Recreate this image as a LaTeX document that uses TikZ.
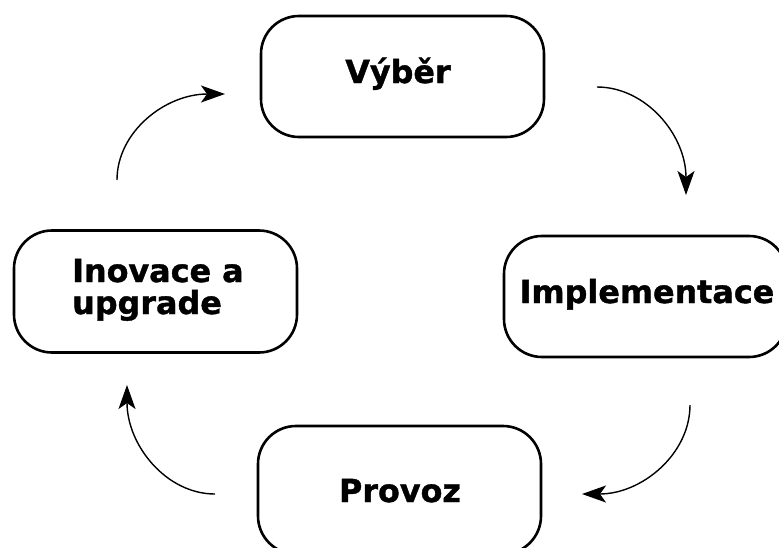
\documentclass[tikz,border=0pt]{standalone}
\usepackage{fontspec}
\setmainfont[BoldFeatures={FakeBold=1.2}]{DejaVu Sans}
\usetikzlibrary{arrows.meta}
\begin{document}
\begin{tikzpicture}[x=1pt,y=-1pt,
  stage/.style={draw=black, line width=2.6pt, rounded corners=38pt, inner sep=0pt, fill=white,
                minimum width=283pt},
  caption/.style={font=\fontsize{31.8}{32.5}\selectfont\bfseries, inner sep=0pt},
  flow/.style={line width=1.4pt, -{Stealth[length=24pt,width=17pt,inset=6pt]}}]
\useasboundingbox (0,0) rectangle (779,547);
\clip (0,0) rectangle (779,547);

% the four stages of the cycle
\node[stage, minimum height=121pt] (vyber)  at (402.5,76.5) {};
\node[stage, minimum height=121pt] (impl)   at (645.5,296.5) {};
\node[stage, minimum height=128pt] (provoz) at (399.5,490) {};
\node[stage, minimum height=122pt] (inov)   at (155.5,291.5) {};

% stage captions
\node[caption, anchor=base] (vyber-t) at (398,83) {Výběr};
\node[caption, anchor=base] (impl-t) at (647,303) {Implementace};
\node[caption, anchor=base] (provoz-t) at (400,502) {Provoz};
\node[caption, anchor=base west] (inov-t1) at (72,282) {Inovace a};
\node[caption, anchor=base west] (inov-t2) at (72,314) {upgrade};

% curved arrows between the stages
\coordinate (a1s) at (117,180); \coordinate (a1e) at (225,94);
\coordinate (a2s) at (597,87);  \coordinate (a2e) at (686,195);
\coordinate (a3s) at (690,405); \coordinate (a3e) at (582,494);
\coordinate (a4s) at (215,494); \coordinate (a4e) at (127,385);

\draw[flow] (a1s) .. controls (117,132) and (165,94) .. (a1e);
\draw[flow] (a2s) .. controls (646,87) and (686,135) .. (a2e);
\draw[flow] (a3s) .. controls (690,454) and (642,494) .. (a3e);
\draw[flow] (a4s) .. controls (166,494) and (127,445) .. (a4e);
\end{tikzpicture}
\end{document}
